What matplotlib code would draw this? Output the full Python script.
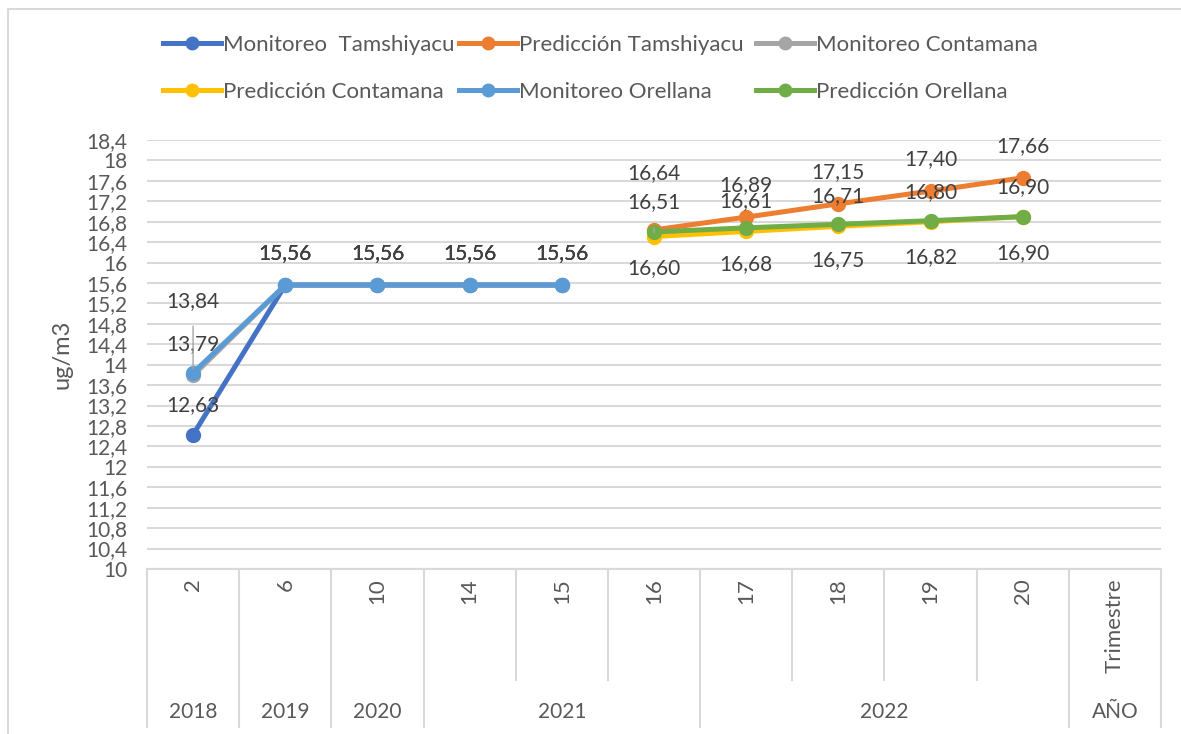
import numpy as np
import matplotlib.pyplot as plt
from matplotlib import transforms
from matplotlib.lines import Line2D

plt.rcParams['font.family'] = ['Lato', 'DejaVu Sans']

# categories (quarter) and their year groups
quarters = ["2", "6", "10", "14", "15", "16", "17", "18", "19", "20", "Trimestre"]
years = ["2018", "2019", "2020", "2021", "2022", "AÑO"]
year_spans = [(0, 0), (1, 1), (2, 2), (3, 5), (6, 9), (10, 10)]

# series values (None = no data)
mon_tamshiyacu = [12.63, 15.56, 15.56, 15.56, 15.56, None, None, None, None, None, None]
pred_tamshiyacu = [None, None, None, None, None, 16.64, 16.89, 17.15, 17.40, 17.66, None]
mon_contamana = [13.79, 15.56, 15.56, 15.56, 15.56, None, None, None, None, None, None]
pred_contamana = [None, None, None, None, None, 16.51, 16.61, 16.71, 16.80, 16.90, None]
mon_orellana = [13.84, 15.56, 15.56, 15.56, 15.56, None, None, None, None, None, None]
pred_orellana = [None, None, None, None, None, 16.60, 16.68, 16.75, 16.82, 16.90, None]

series = [
    ("Monitoreo  Tamshiyacu", mon_tamshiyacu, "#4472C4"),
    ("Predicción Tamshiyacu", pred_tamshiyacu, "#ED7D31"),
    ("Monitoreo Contamana", mon_contamana, "#A5A5A5"),
    ("Predicción Contamana", pred_contamana, "#FFC000"),
    ("Monitoreo Orellana", mon_orellana, "#5B9BD5"),
    ("Predicción Orellana", pred_orellana, "#70AD47"),
]

W, H = 1181, 734
fig = plt.figure(figsize=(W / 100, H / 100), dpi=100)
ax = fig.add_axes([147 / W, 1 - 569 / H, (1161 - 147) / W, (569 - 140) / H])

x = np.arange(len(quarters))
handles = []
for i, (name, vals, color) in enumerate(series):
    y = np.array([np.nan if v is None else v for v in vals])
    ax.plot(x, y, color=color, lw=3.6, marker='o', ms=10, zorder=3 + i,
            solid_capstyle='round')
    handles.append(Line2D([], [], color=color, lw=3.6, marker='o', ms=9))


def fmt(v):
    return f"{v:.2f}".replace('.', ',')


def label(xi, v, dy, leader=False):
    ax.annotate(fmt(v), (xi, v), xytext=(0, dy), textcoords='offset pixels',
                ha='center', va='center', fontsize=15, color='#404040', zorder=20,
                arrowprops=dict(arrowstyle='-', color='#A5A5A5', lw=1, shrinkA=9, shrinkB=3) if leader else None)


# monitoring labels
label(0, mon_tamshiyacu[0], 30)
label(0, mon_contamana[0], 31)
label(0, mon_orellana[0], 72, leader=True)
for k in range(1, 5):
    for s in (mon_tamshiyacu, mon_contamana, mon_orellana):
        label(k, s[k], 32)
# prediction labels
for k in range(5, 10):
    label(k, pred_tamshiyacu[k], 57 if k == 5 else 32)
    label(k, pred_contamana[k], 34 if k == 5 else 30, leader=(k == 5))
    label(k, pred_orellana[k], -36)

ax.set_xlim(-0.5, len(quarters) - 0.5)
ax.set_ylim(10, 18.4)
yt = np.round(np.arange(10, 18.41, 0.4), 1)
ax.set_yticks(yt)
ax.set_yticklabels([f"{v:g}".replace('.', ',') for v in yt], fontsize=15, color='#595959')
ax.tick_params(axis='y', length=0, pad=14)
ax.set_xticks([])
ax.grid(axis='y', color='#D9D9D9', lw=1.5)
ax.set_axisbelow(True)
for sp in ('top', 'right', 'left'):
    ax.spines[sp].set_visible(False)
ax.spines['bottom'].set_color('#D9D9D9')
ax.spines['bottom'].set_linewidth(1.5)
ax.set_ylabel("ug/m3", fontsize=17, color='#595959', labelpad=10)

# multi-level category axis
tr = transforms.blended_transform_factory(ax.transData, fig.transFigure)
group_bounds = set([-0.5] + [b + 0.5 for _, b in year_spans])
for b in np.arange(-0.5, len(quarters), 1.0):
    y_end = 1 - 727 / H if b in group_bounds else 1 - 680 / H
    fig.add_artist(Line2D([b, b], [1 - 569 / H, y_end], transform=tr,
                          color='#D9D9D9', lw=1.5))
for k, q in enumerate(quarters):
    fig.text(k, 1 - 578 / H, q, transform=tr, rotation=90, ha='center', va='top',
             fontsize=16, color='#595959')
for (a, b), yr in zip(year_spans, years):
    fig.text((a + b) / 2, 1 - 712 / H, yr, transform=tr, ha='center', va='center',
             fontsize=15, color='#595959')

# chart border (left and top)
fig.add_artist(Line2D([8 / W, 8 / W, 1], [0, 1 - 9 / H, 1 - 9 / H],
                      transform=fig.transFigure, color='#D9D9D9', lw=1.5))

# legend: three columns placed like the original
col_x = [163, 459, 756]
for c in range(3):
    fig.legend([handles[c], handles[c + 3]], [series[c][0], series[c + 3][0]],
               loc='upper left', bbox_to_anchor=(col_x[c] / W, 1 - 35 / H),
               frameon=False, handlelength=2.6, handletextpad=0.12,
               labelspacing=1.2, borderpad=0, borderaxespad=0,
               labelcolor='#595959', fontsize=16)

fig.savefig("out.png", dpi=100)
